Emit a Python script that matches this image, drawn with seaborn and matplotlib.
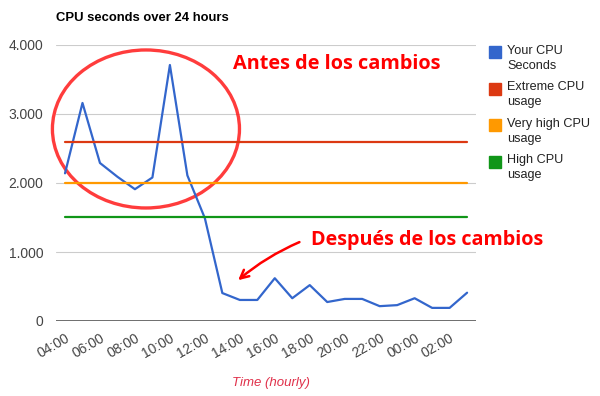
import matplotlib
matplotlib.use("Agg")
import matplotlib.pyplot as plt
from matplotlib.patches import Ellipse, Rectangle
from matplotlib.ticker import FuncFormatter
import pandas as pd
import seaborn as sns

# Datos (segundos de CPU por hora)
hours = ["04:00", "05:00", "06:00", "07:00", "08:00", "09:00", "10:00", "11:00",
         "12:00", "13:00", "14:00", "15:00", "16:00", "17:00", "18:00", "19:00",
         "20:00", "21:00", "22:00", "23:00", "00:00", "01:00", "02:00", "03:00"]
cpu_seconds = [2140, 3160, 2290, 2090, 1910, 2080, 3710, 2110,
               1490, 405, 305, 305, 620, 330, 520, 275,
               320, 320, 215, 230, 330, 190, 190, 410]
extreme_cpu = 2600
very_high_cpu = 2000
high_cpu = 1500

series_names = ["Your CPU Seconds", "Extreme CPU usage", "Very high CPU usage", "High CPU usage"]
legend_labels = ["Your CPU\nSeconds", "Extreme CPU\nusage", "Very high CPU\nusage", "High CPU\nusage"]
colors = ["#3366cc", "#dc3912", "#ff9900", "#109618"]

df = pd.DataFrame({
    "pos": range(len(hours)),
    "hour": hours,
    "Your CPU Seconds": cpu_seconds,
    "Extreme CPU usage": extreme_cpu,
    "Very high CPU usage": very_high_cpu,
    "High CPU usage": high_cpu,
}).melt(id_vars=["pos", "hour"], var_name="series", value_name="seconds")

sns.set_style("white")
plt.rcParams["font.family"] = ["Liberation Sans", "DejaVu Sans"]

fig = plt.figure(figsize=(6, 3.96), dpi=100)
ax = fig.add_axes([56 / 600, 75 / 396, 420 / 600, 276 / 396])

# gridlines
for v in [1000, 2000, 3000, 4000]:
    ax.axhline(v, color="#cccccc", lw=0.8, zorder=0)
ax.axhline(0, color="#555555", lw=1.2, zorder=1)

sns.lineplot(data=df, x="pos", y="seconds", hue="series", hue_order=series_names,
             palette=dict(zip(series_names, colors)), lw=1.6, legend=False, ax=ax)

ax.set_xlim(-0.515, 23.51)
ax.set_ylim(0, 4000)
ax.set_xticks(range(0, len(hours), 2))
ax.set_xticklabels(hours[::2], rotation=30, ha="right", rotation_mode="anchor")
ax.set_yticks([0, 1000, 2000, 3000, 4000])
ax.yaxis.set_major_formatter(FuncFormatter(lambda v, p: f"{v:,.0f}".replace(",", ".")))
ax.tick_params(axis="both", length=0, labelsize=10, colors="#444444")
ax.tick_params(axis="x", pad=7)
ax.tick_params(axis="y", pad=9)
ax.set_xlabel("")
ax.set_ylabel("")
ax.grid(False)
for s in ax.spines.values():
    s.set_visible(False)

fig.text(56 / 600, 1 - 18 / 396, "CPU seconds over 24 hours", fontsize=9.4,
         fontweight="bold", color="#000000", va="center")
fig.text(271 / 600, 1 - 383 / 396, "Time (hourly)", fontsize=9.5, style="italic",
         color="#e0304a", ha="center", va="center")

# leyenda
for i, (lab, c) in enumerate(zip(legend_labels, colors)):
    y = 52 + i * 36.5
    fig.patches.append(Rectangle((489 / 600, 1 - (y + 6) / 396), 12 / 600, 12 / 396,
                                 transform=fig.transFigure, color=c))
    fig.text(507 / 600, 1 - (y - 7) / 396, lab, fontsize=9.1, color="#222222",
             va="top", linespacing=1.3)

# anotaciones
ax.add_patch(Ellipse((4.63, 2783), 10.7, 2290, fill=False, color="#ff1a1a",
                     lw=2.4, alpha=0.85, clip_on=False))
fig.text(233 / 600, 1 - 64 / 396, "Antes de los cambios", fontsize=14.3,
         fontweight="bold", color="#ff0000", family=["Open Sans", "DejaVu Sans"],
         va="center")
fig.text(311 / 600, 1 - 240 / 396, "Después de los cambios", fontsize=14.2,
         fontweight="bold", color="#ff0000", family=["Open Sans", "DejaVu Sans"],
         va="center")
ax.annotate("", xy=(236, 396 - 282), xycoords="figure pixels",
            xytext=(302, 396 - 241), textcoords="figure pixels",
            arrowprops=dict(arrowstyle="->,head_length=0.6,head_width=0.3",
                            color="#ff0000", lw=1.8,
                            connectionstyle="arc3,rad=0.08"))

plt.savefig("out.png", dpi=100)
